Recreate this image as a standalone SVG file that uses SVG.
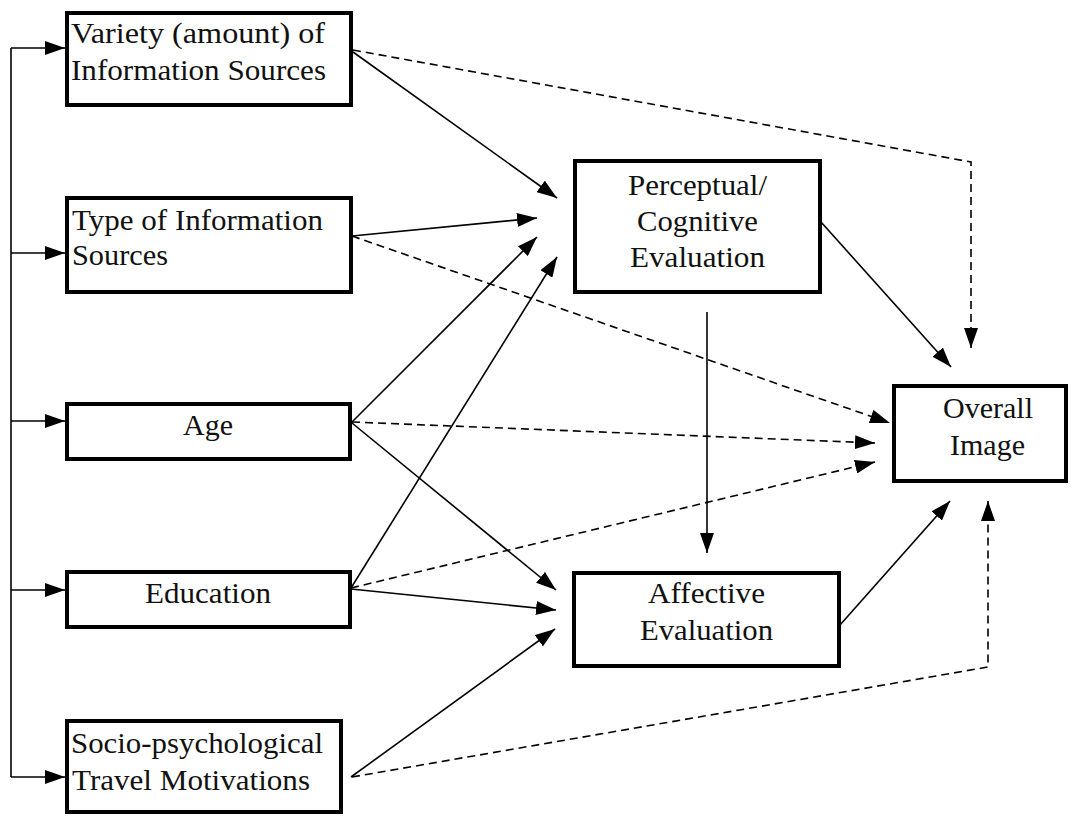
<svg xmlns="http://www.w3.org/2000/svg" width="1071" height="817" viewBox="0 0 1071 817">
<style>
.box{fill:#fff;stroke:#000;stroke-width:4}
.t{font-family:'Liberation Serif','Tinos','DejaVu Serif',serif;font-size:30px;fill:#111}
.c{text-anchor:middle}
.ln{fill:none;stroke:#000;stroke-width:1.6}
.d{stroke-dasharray:8 5}
</style>
<defs>
<marker id="ah" viewBox="0 0 20 14" refX="20" refY="7" markerWidth="20" markerHeight="14" markerUnits="userSpaceOnUse" orient="auto">
<path d="M0,0 L20,7 L0,14 z" fill="#000"/>
</marker>
</defs>
<rect width="1071" height="817" fill="#fff"/>
<g id="connectors">
<path class="ln" d="M11,48 V777"/>
<path class="ln" d="M11,48 H65" marker-end="url(#ah)"/>
<path class="ln" d="M11,253 H65" marker-end="url(#ah)"/>
<path class="ln" d="M11,421 H65" marker-end="url(#ah)"/>
<path class="ln" d="M11,590 H65" marker-end="url(#ah)"/>
<path class="ln" d="M11,777 H65" marker-end="url(#ah)"/>
<path class="ln" d="M353,52 L557,198" marker-end="url(#ah)"/>
<path class="ln" d="M352,236 L537,218" marker-end="url(#ah)"/>
<path class="ln" d="M352,422 L537,237" marker-end="url(#ah)"/>
<path class="ln" d="M351,588 L557,257" marker-end="url(#ah)"/>
<path class="ln" d="M352,423 L556,590" marker-end="url(#ah)"/>
<path class="ln" d="M351,589 L556,610" marker-end="url(#ah)"/>
<path class="ln" d="M351,777 L555,629" marker-end="url(#ah)"/>
<path class="ln" d="M707,312 V553" marker-end="url(#ah)"/>
<path class="ln" d="M821,222 L951,367" marker-end="url(#ah)"/>
<path class="ln" d="M840,625 L950,501" marker-end="url(#ah)"/>
<path class="ln d" d="M353,50 L971,162 V348" marker-end="url(#ah)"/>
<path class="ln d" d="M352,236 L890,423" marker-end="url(#ah)"/>
<path class="ln d" d="M352,422 L875,443" marker-end="url(#ah)"/>
<path class="ln d" d="M351,588 L875,462" marker-end="url(#ah)"/>
<path class="ln d" d="M352,777 L988,667 V501" marker-end="url(#ah)"/>
</g>
<g id="variety">
<rect class="box" x="67" y="13" width="284" height="92"/>
<text class="t" x="71" y="43" textLength="254" lengthAdjust="spacingAndGlyphs">Variety (amount) of</text>
<text class="t" x="71" y="80" textLength="255" lengthAdjust="spacingAndGlyphs">Information Sources</text>
</g>
<g id="type">
<rect class="box" x="67" y="198" width="284" height="94"/>
<text class="t" x="72" y="230" textLength="251" lengthAdjust="spacingAndGlyphs">Type of Information</text>
<text class="t" x="72" y="265" textLength="96" lengthAdjust="spacingAndGlyphs">Sources</text>
</g>
<g id="age">
<rect class="box" x="67" y="404" width="283" height="55"/>
<text class="t" x="183" y="435" textLength="50" lengthAdjust="spacingAndGlyphs">Age</text>
</g>
<g id="education">
<rect class="box" x="67" y="572" width="283" height="55"/>
<text class="t" x="145" y="603" textLength="126" lengthAdjust="spacingAndGlyphs">Education</text>
</g>
<g id="socio">
<rect class="box" x="67" y="721" width="274" height="91"/>
<text class="t" x="71" y="753" textLength="252" lengthAdjust="spacingAndGlyphs">Socio-psychological</text>
<text class="t" x="72" y="790" textLength="238" lengthAdjust="spacingAndGlyphs">Travel Motivations</text>
</g>
<g id="perceptual">
<rect class="box" x="575" y="161" width="245" height="131"/>
<text class="t" x="628" y="195" textLength="139" lengthAdjust="spacingAndGlyphs">Perceptual/</text>
<text class="t" x="637" y="231" textLength="121" lengthAdjust="spacingAndGlyphs">Cognitive</text>
<text class="t" x="630" y="267" textLength="135" lengthAdjust="spacingAndGlyphs">Evaluation</text>
</g>
<g id="affective">
<rect class="box" x="574" y="573" width="265" height="93"/>
<text class="t" x="648" y="603" textLength="117" lengthAdjust="spacingAndGlyphs">Affective</text>
<text class="t" x="640" y="640" textLength="133" lengthAdjust="spacingAndGlyphs">Evaluation</text>
</g>
<g id="overall">
<rect class="box" x="894" y="386" width="172" height="95"/>
<text class="t" x="943" y="418" textLength="90" lengthAdjust="spacingAndGlyphs">Overall</text>
<text class="t" x="950" y="455" textLength="75" lengthAdjust="spacingAndGlyphs">Image</text>
</g>
</svg>
